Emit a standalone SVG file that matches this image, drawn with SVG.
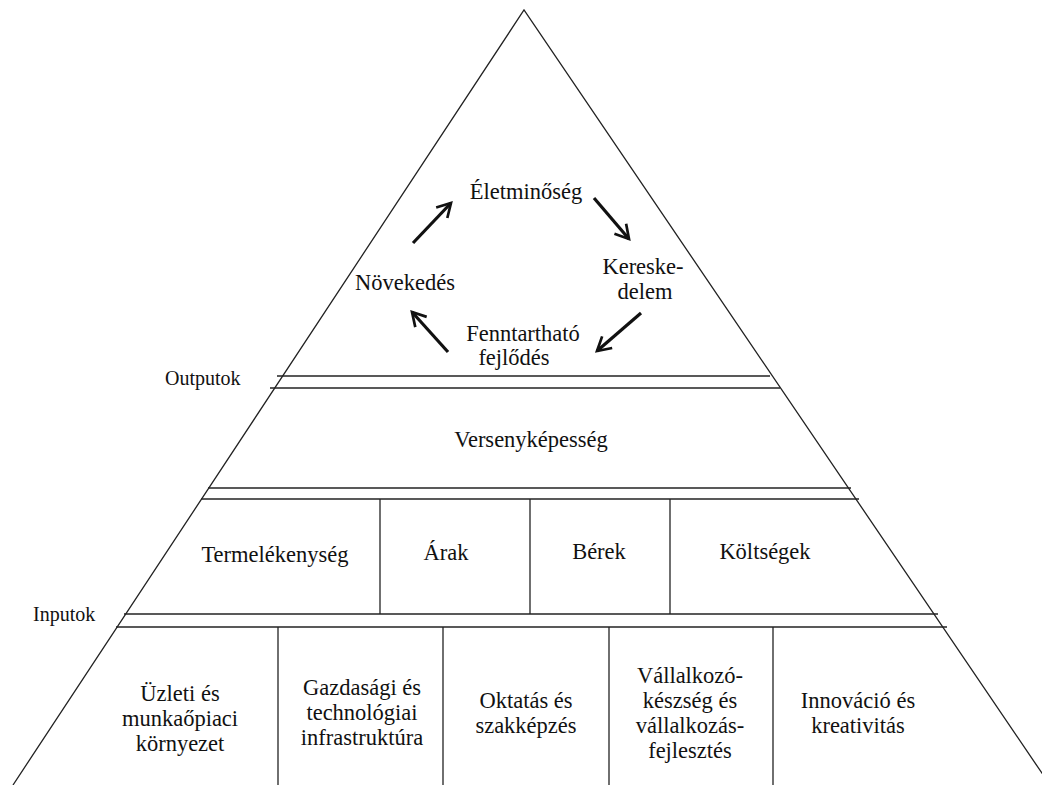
<svg xmlns="http://www.w3.org/2000/svg" width="1042" height="785" viewBox="0 0 1042 785">
<style>
.ln{stroke:#222;stroke-width:1.3;fill:none}
text{font-family:'Liberation Serif','Times New Roman',Times,serif;fill:#111}
.t{font-size:22.5px;text-anchor:middle}
.s{font-size:20px}
.ar{stroke:#111;stroke-width:3.2;fill:none;marker-end:url(#h)}
</style>
<defs>
<marker id="h" viewBox="0 0 10 10" refX="8" refY="5" markerWidth="6" markerHeight="6" orient="auto" markerUnits="strokeWidth">
<path d="M1,1 L8,5 L1,9" fill="none" stroke="#111" stroke-width="1.4"/>
</marker>
</defs>
<rect width="1042" height="785" fill="#fff"/>
<g id="pyramid">
<path class="ln" d="M13,785 L524,10 L1050,785"/>
<line class="ln" x1="277" y1="376" x2="770" y2="376"/>
<line class="ln" x1="270" y1="388" x2="780" y2="388"/>
<line class="ln" x1="208" y1="488" x2="851" y2="488"/>
<line class="ln" x1="201" y1="499" x2="859" y2="499"/>
<line class="ln" x1="124" y1="614" x2="938" y2="614"/>
<line class="ln" x1="116" y1="627" x2="947" y2="627"/>
<line class="ln" x1="380" y1="499" x2="380" y2="614"/>
<line class="ln" x1="530" y1="499" x2="530" y2="614"/>
<line class="ln" x1="670" y1="499" x2="670" y2="614"/>
<line class="ln" x1="278" y1="627" x2="278" y2="785"/>
<line class="ln" x1="443" y1="627" x2="443" y2="785"/>
<line class="ln" x1="609" y1="627" x2="609" y2="785"/>
<line class="ln" x1="773" y1="627" x2="773" y2="785"/>
</g>
<g id="labels">
<text class="s" x="165" y="385">Outputok</text>
<text class="s" x="33" y="621">Inputok</text>
</g>
<g id="n-eletminoseg"><text class="t" x="526" y="199">Életminőség</text></g>
<g id="n-kereskedelem"><text class="t" x="643" y="274">Kereske-</text><text class="t" x="645" y="299">delem</text></g>
<g id="n-fenntarthato"><text class="t" x="523" y="341">Fenntartható</text><text class="t" x="514" y="365">fejlődés</text></g>
<g id="n-novekedes"><text class="t" x="405" y="290">Növekedés</text></g>
<g id="connectors">
<line class="ar" x1="413" y1="243" x2="451" y2="203"/>
<line class="ar" x1="594" y1="198" x2="629" y2="239"/>
<line class="ar" x1="641" y1="313" x2="597" y2="351"/>
<line class="ar" x1="448" y1="352" x2="412" y2="312"/>
</g>
<g id="n-versenykepesseg"><text class="t" x="531" y="447">Versenyképesség</text></g>
<g id="n-termelekenyseg"><text class="t" x="275" y="562">Termelékenység</text></g>
<g id="n-arak"><text class="t" x="446" y="560">Árak</text></g>
<g id="n-berek"><text class="t" x="599" y="559">Bérek</text></g>
<g id="n-koltsegek"><text class="t" x="765" y="559">Költségek</text></g>
<g id="n-uzleti"><text class="t" x="180" y="701">Üzleti és</text><text class="t" x="180" y="726">munkaőpiaci</text><text class="t" x="180" y="751">környezet</text></g>
<g id="n-gazdasagi"><text class="t" x="362" y="695">Gazdasági és</text><text class="t" x="362" y="720">technológiai</text><text class="t" x="362" y="745">infrastruktúra</text></g>
<g id="n-oktatas"><text class="t" x="526" y="708">Oktatás és</text><text class="t" x="526" y="733">szakképzés</text></g>
<g id="n-vallalkozo"><text class="t" x="690" y="683">Vállalkozó-</text><text class="t" x="690" y="708">készség és</text><text class="t" x="690" y="733">vállalkozás-</text><text class="t" x="690" y="758">fejlesztés</text></g>
<g id="n-innovacio"><text class="t" x="858" y="708">Innováció és</text><text class="t" x="858" y="733">kreativitás</text></g>
</svg>
